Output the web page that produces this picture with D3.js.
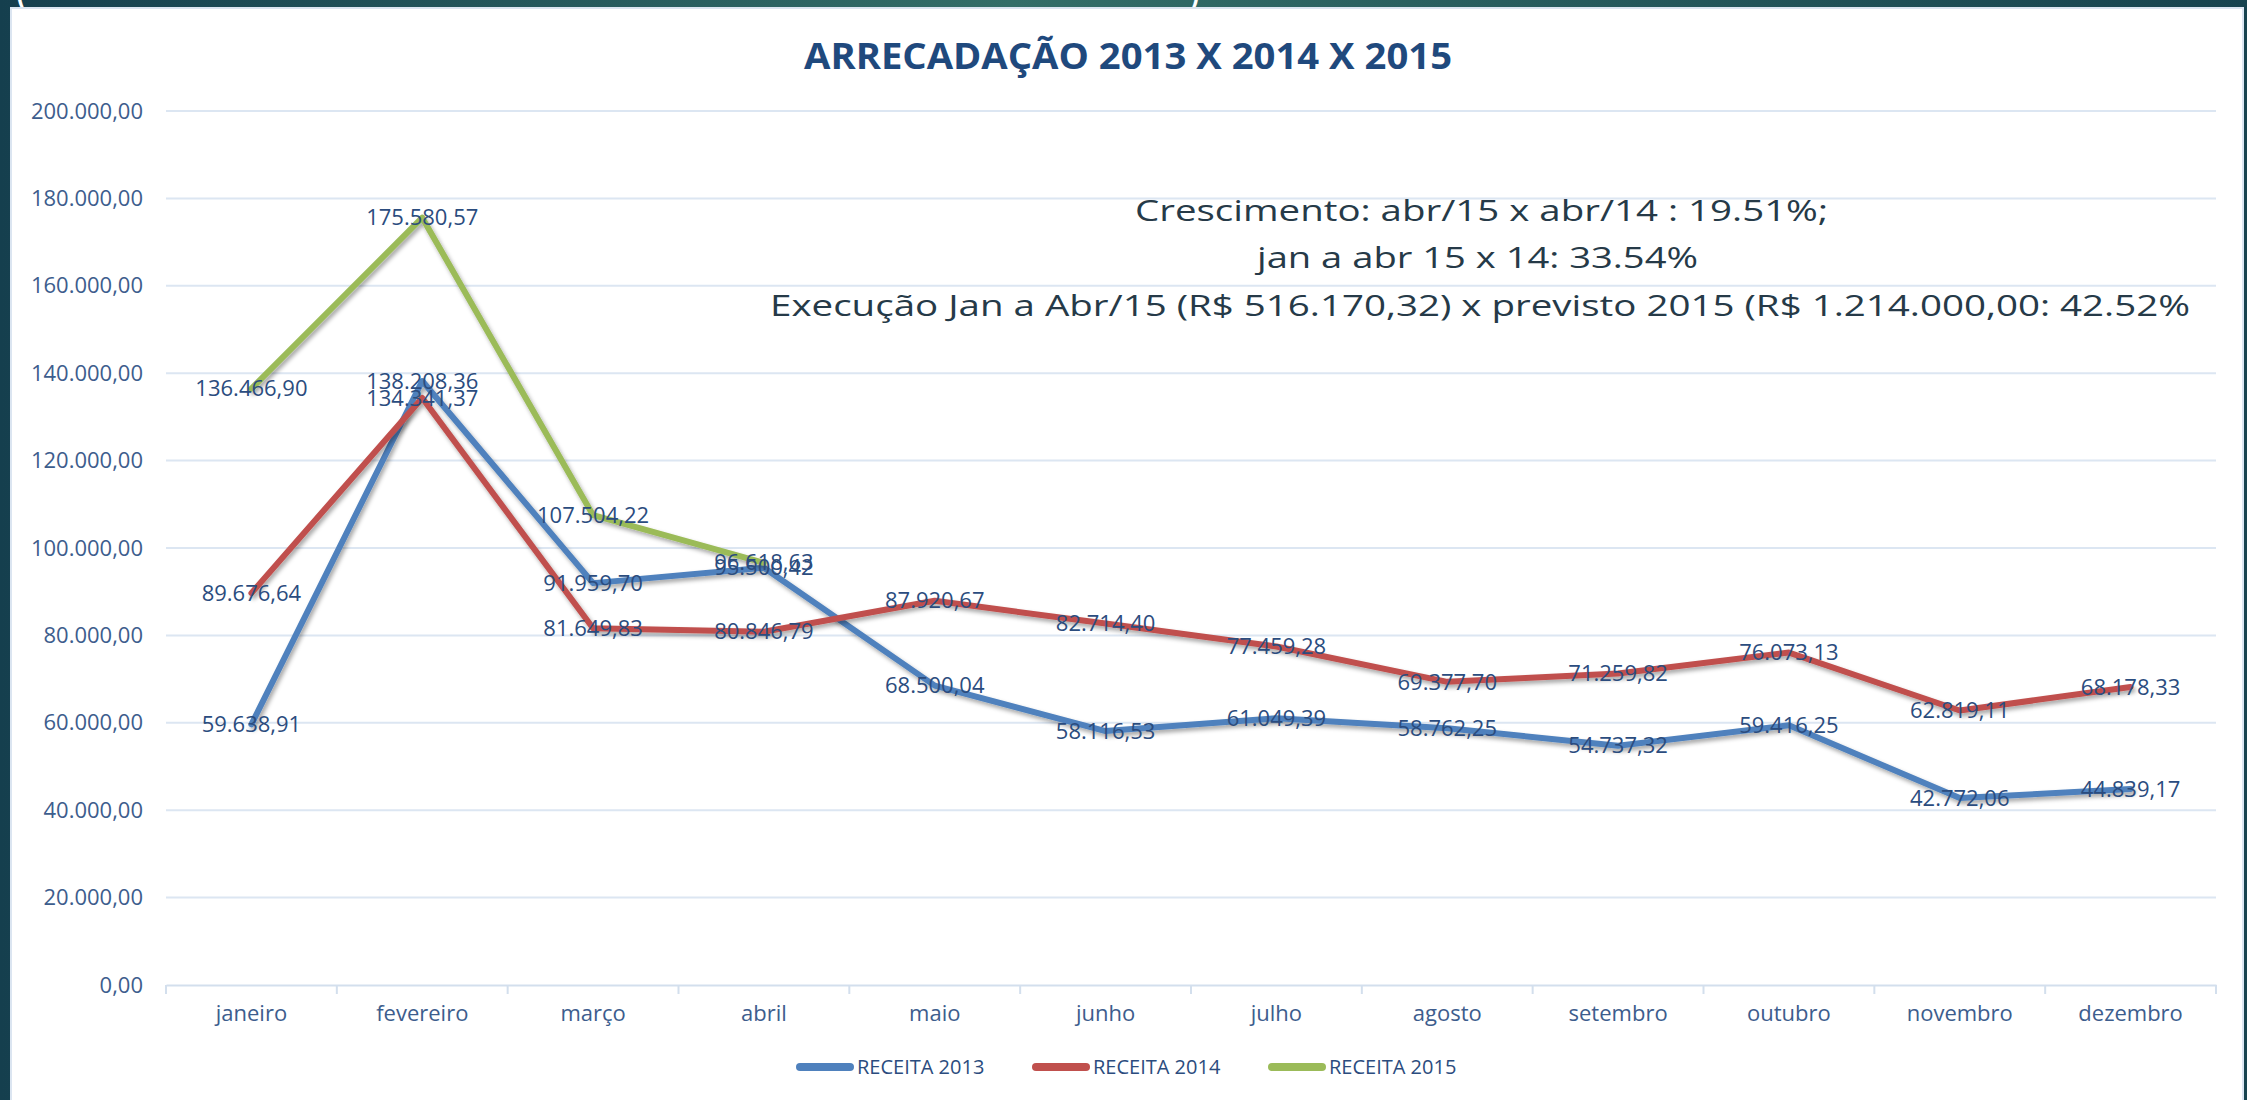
<!DOCTYPE html>
<html>
<head>
<meta charset="utf-8">
<script src="https://cdn.jsdelivr.net/npm/d3@7"></script>
<style>
  body { margin: 0; background: #1b4653; }
  svg { display: block; }
</style>
</head>
<body>
<div id="chart"></div>
<script>
// data
var months = ["janeiro", "fevereiro", "março", "abril", "maio", "junho",
    "julho", "agosto", "setembro", "outubro", "novembro", "dezembro"];
var receita2013 = [59638.91, 138208.36, 91959.70, 95500.42, 68500.04, 58116.53,
    61049.39, 58762.25, 54737.32, 59416.25, 42772.06, 44839.17];
var receita2014 = [89676.64, 134341.37, 81649.83, 80846.79, 87920.67, 82714.40,
    77459.28, 69377.70, 71259.82, 76073.13, 62819.11, 68178.33];
var receita2015 = [136466.90, 175580.57, 107504.22, 96618.63];
var seriesNames = ["RECEITA 2013", "RECEITA 2014", "RECEITA 2015"];
var seriesColors = ["#4f81bd", "#c0504d", "#9bbb59"];
var yTicks = [0, 20000, 40000, 60000, 80000, 100000, 120000, 140000, 160000, 180000, 200000];
var chartTitle = "ARRECADAÇÃO 2013 X 2014 X 2015";
var notes = [
    "Crescimento: abr/15 x abr/14 : 19.51%;",
    "jan a abr 15 x 14: 33.54%",
    "Execução Jan a Abr/15 (R$ 516.170,32) x  previsto 2015 (R$ 1.214.000,00: 42.52%"
];

var W = 2247, H = 1100;
var margin = {top: 111, right: 31, bottom: 115, left: 166},
    width = W - margin.left - margin.right,
    height = H - margin.top - margin.bottom;

var br = d3.formatLocale({decimal: ",", thousands: ".", grouping: [3], currency: ["R$ ", ""]});
var fmt = br.format(",.2f");

var svg = d3.select("#chart")
    .append("svg")
    .attr("width", W)
    .attr("height", H);

var defs = svg.append("defs");
var grad = defs.append("linearGradient").attr("id", "frame");
grad.append("stop").attr("offset", "0%").attr("stop-color", "#153f4e");
grad.append("stop").attr("offset", "45%").attr("stop-color", "#336e68");
grad.append("stop").attr("offset", "100%").attr("stop-color", "#17434f");
defs.append("filter")
    .attr("id", "shadow")
    .attr("x", "-5%").attr("y", "-10%")
    .attr("width", "110%").attr("height", "130%")
    .append("feDropShadow")
    .attr("dx", 2).attr("dy", 3)
    .attr("stdDeviation", 2)
    .attr("flood-color", "#000")
    .attr("flood-opacity", 0.35);

// slide frame
svg.append("rect").attr("width", W).attr("height", H).attr("fill", "url(#frame)");
svg.append("text").attr("x", 16).attr("y", 6).attr("fill", "#fff")
    .style("font", "40px 'Open Sans'").text("(");
svg.append("text").attr("x", 1188).attr("y", 6).attr("fill", "#fff")
    .style("font", "40px 'Open Sans'").text(")");
svg.append("rect")
    .attr("x", 11).attr("y", 8)
    .attr("width", 2232).attr("height", H)
    .attr("fill", "#fff")
    .attr("stroke", "#dbe5f1")
    .attr("stroke-width", 2);

// title
svg.append("text")
    .attr("x", 1128).attr("y", 69)
    .attr("text-anchor", "middle")
    .attr("textLength", 648)
    .attr("lengthAdjust", "spacingAndGlyphs")
    .attr("fill", "#1f497d")
    .style("font-family", "'Open Sans', sans-serif")
    .style("font-weight", "bold")
    .style("font-size", "36px")
    .text(chartTitle);

var g = svg.append("g")
    .attr("transform", "translate(" + margin.left + "," + margin.top + ")");

// scales
var x = d3.scaleBand().domain(months).range([0, width]).padding(0);
var y = d3.scaleLinear().domain([0, 200000]).range([height, 0]);

// gridlines
g.append("g")
    .selectAll("line")
    .data(yTicks.slice(1))
    .enter()
    .append("line")
    .attr("x1", 0).attr("x2", width)
    .attr("y1", function (d) { return y(d); })
    .attr("y2", function (d) { return y(d); })
    .attr("stroke", "#dce6f2")
    .attr("stroke-width", 2);

// Y axis labels
var yAxis = g.append("g")
    .call(d3.axisLeft(y).tickValues(yTicks).tickFormat(fmt).tickSize(0).tickPadding(23));
yAxis.select(".domain").remove();
yAxis.selectAll("text")
    .attr("fill", "#3d5d8d")
    .style("font-family", "'Open Sans', sans-serif")
    .style("font-size", "22px");

// X axis
var xAxis = g.append("g")
    .attr("transform", "translate(0," + height + ")")
    .call(d3.axisBottom(x).tickSize(0).tickPadding(20));
xAxis.select(".domain").attr("stroke", "#d3dfed").attr("stroke-width", 2);
xAxis.selectAll("text")
    .attr("fill", "#3d5d8d")
    .style("font-family", "'Open Sans', sans-serif")
    .style("font-size", "22px");
xAxis.selectAll(".catTick")
    .data(months.concat(["end"]))
    .enter()
    .append("line")
    .attr("class", "catTick")
    .attr("x1", function (d) { return d === "end" ? width : x(d); })
    .attr("x2", function (d) { return d === "end" ? width : x(d); })
    .attr("y1", 0).attr("y2", 9)
    .attr("stroke", "#d3dfed")
    .attr("stroke-width", 2);

// lines
var allSeries = [receita2013, receita2014, receita2015];
var line = d3.line()
    .x(function (d, i) { return x(months[i]) + x.bandwidth() / 2; })
    .y(function (d) { return y(d); });

g.selectAll(".serie")
    .data(allSeries)
    .enter()
    .append("path")
    .attr("class", "serie")
    .attr("d", line)
    .attr("fill", "none")
    .attr("stroke", function (d, i) { return seriesColors[i]; })
    .attr("stroke-width", 6)
    .attr("stroke-linejoin", "round")
    .attr("stroke-linecap", "round")
    .attr("filter", "url(#shadow)");

// data labels
allSeries.forEach(function (serie) {
    g.append("g")
        .selectAll("text")
        .data(serie)
        .enter()
        .append("text")
        .attr("x", function (d, i) { return x(months[i]) + x.bandwidth() / 2; })
        .attr("y", function (d) { return y(d); })
        .attr("dy", "0.35em")
        .attr("text-anchor", "middle")
        .attr("fill", "#2b4c7e")
        .style("font-family", "'Open Sans', sans-serif")
        .style("font-size", "22px")
        .text(function (d) { return fmt(d); });
});

// annotation
var noteLayout = [
    {x: 1135, y: 221, w: 693},
    {x: 1257, y: 268, w: 441},
    {x: 770, y: 316, w: 1420}
];
svg.append("g")
    .selectAll("text")
    .data(notes)
    .enter()
    .append("text")
    .attr("x", function (d, i) { return noteLayout[i].x; })
    .attr("y", function (d, i) { return noteLayout[i].y; })
    .attr("textLength", function (d, i) { return noteLayout[i].w; })
    .attr("lengthAdjust", "spacingAndGlyphs")
    .attr("fill", "#263a48")
    .style("font-family", "'Open Sans', sans-serif")
    .style("font-weight", 400)
    .style("font-size", "29px")
    .text(function (d) { return d; });

// legend
var legend = svg.append("g")
    .selectAll("g")
    .data(seriesNames)
    .enter()
    .append("g")
    .attr("transform", function (d, i) { return "translate(" + (800 + i * 236) + ",1067)"; });
legend.append("line")
    .attr("x1", 0).attr("x2", 50)
    .attr("stroke", function (d, i) { return seriesColors[i]; })
    .attr("stroke-width", 8)
    .attr("stroke-linecap", "round");
legend.append("text")
    .attr("x", 57)
    .attr("dy", "0.35em")
    .attr("fill", "#2b4c7e")
    .style("font-family", "'Open Sans', sans-serif")
    .style("font-size", "20px")
    .text(function (d) { return d; });
</script>
</body>
</html>
